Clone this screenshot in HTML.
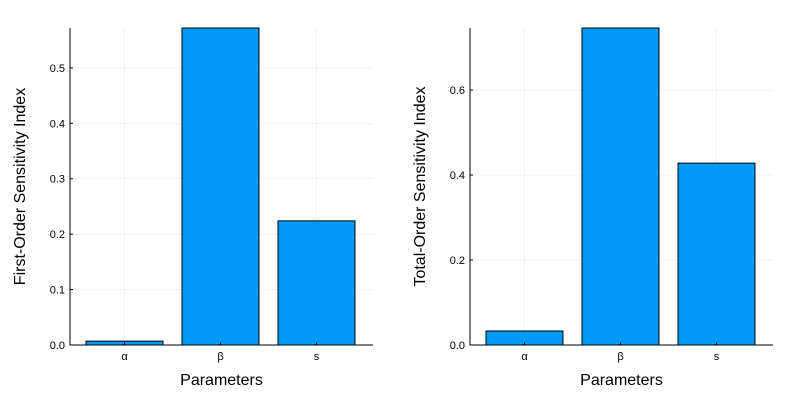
<!DOCTYPE html>
<html><head><meta charset="utf-8"><style>
body{margin:0;background:#fff}
svg{font-family:"Liberation Sans","DejaVu Sans",sans-serif}
</style></head><body>
<svg id="c" width="800" height="400" xmlns="http://www.w3.org/2000/svg"></svg>
<script>
const categories = ["α","β","s"];
const firstOrder = [0.007, 0.572, 0.224];
const totalOrder = [0.033, 0.746, 0.428];
const leftTicks = [0.0,0.1,0.2,0.3,0.4,0.5];
const rightTicks = [0.0,0.2,0.4,0.6];
const NS="http://www.w3.org/2000/svg";
const svg=document.getElementById('c');
function mk(tag,attrs,parent){const e=document.createElementNS(NS,tag);for(const k in attrs)e.setAttribute(k,attrs[k]);(parent||svg).appendChild(e);return e;}
function panel(name,x0,x1,y0,y1,values,ticks,ymax,ylabel,dec){
  const g=mk('g',{});
  
  
  const step=96;
  const xc=i=>x0+54.5+i*step;
  const ys=v=>y1-(v/ymax)*(y1-y0);
  // grid
  ticks.forEach(t=>{const l=mk('line',{x1:x0,x2:x1,y1:ys(t),y2:ys(t),stroke:'#000','stroke-opacity':0.1,'stroke-width':0.5},g);
    });
  categories.forEach((c,i)=>{const l=mk('line',{x1:xc(i),x2:xc(i),y1:y0,y2:y1,stroke:'#000','stroke-opacity':0.1,'stroke-width':0.5},g);
    });
  // bars
  values.forEach((v,i)=>{const b=mk('rect',{x:xc(i)-38.5,y:ys(v),width:77,height:y1-ys(v),fill:'#009af9',stroke:'#000','stroke-width':1},g);
    });
  // axes
  const ax=mk('path',{d:`M${x0} ${y0}V${y1}H${x1}`,fill:'none',stroke:'#000','stroke-width':1},g);
  
  ticks.forEach(t=>{mk('line',{x1:x0,x2:x0+3,y1:ys(t),y2:ys(t),stroke:'#000'},g);
    const tx=mk('text',{x:x0-5,y:ys(t)+4,'text-anchor':'end','font-size':11},g);tx.textContent=t.toFixed(1);
    });
  categories.forEach((c,i)=>{mk('line',{x1:xc(i),x2:xc(i),y1:y1,y2:y1-3,stroke:'#000'},g);
    const tx=mk('text',{x:xc(i),y:y1+15,'text-anchor':'middle','font-size':11},g);tx.textContent=c;
    });
  const xl=mk('text',{x:(x0+x1)/2,y:385,'text-anchor':'middle','font-size':16},g);xl.textContent='Parameters';
  
  const yc=(y0+y1)/2, yx=x0-45;
  const yl=mk('text',{x:yx,y:yc,'text-anchor':'middle','font-size':16,transform:`rotate(-90 ${yx} ${yc})`},g);yl.textContent=ylabel;
  
}
panel('first-order-panel',70,373,28,345,firstOrder,leftTicks,0.572,'First-Order Sensitivity Index');
panel('total-order-panel',470,773,28,345,totalOrder,rightTicks,0.746,'Total-Order Sensitivity Index');
</script>
</body></html>
